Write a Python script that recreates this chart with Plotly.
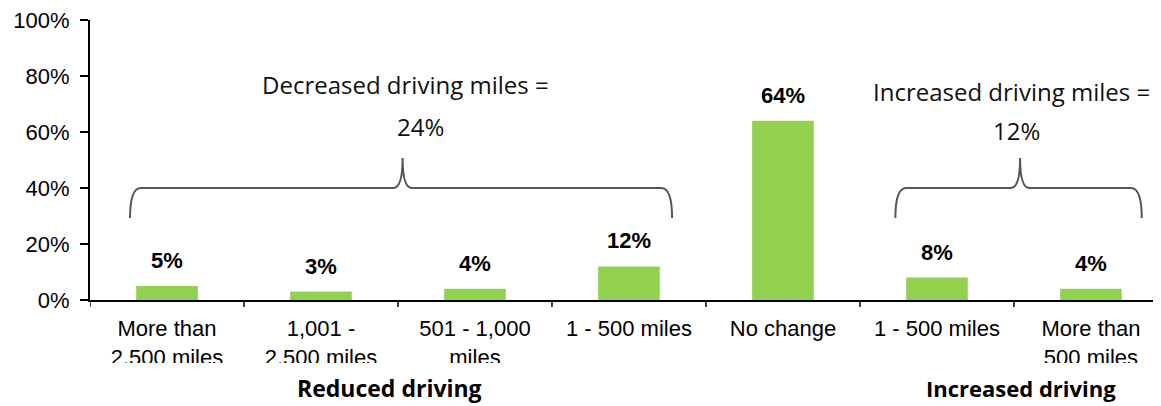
import plotly.graph_objects as go

categories = ["More than<br>2,500 miles", "1,001 -<br>2,500 miles", "501 - 1,000<br>miles",
              "1 - 500 miles", "No change", "1 - 500 miles", "More than<br>500 miles"]
values = [5, 3, 4, 12, 64, 8, 4]
value_labels = ["5%", "3%", "4%", "12%", "64%", "8%", "4%"]
y_ticks = [0, 20, 40, 60, 80, 100]
y_tick_labels = ["0%", "20%", "40%", "60%", "80%", "100%"]

xs = list(range(len(categories)))

fig = go.Figure()
fig.add_trace(go.Bar(
    x=xs, y=values, width=0.4,
    marker=dict(color="#92D050", line=dict(width=0)),
    hoverinfo="skip",
))

annotations = []
for xi, v, lab in zip(xs, values, value_labels):
    annotations.append(dict(x=xi, y=v, xref="x", yref="y", text="<b>%s</b>" % lab,
                            showarrow=False, yanchor="bottom", yshift=11,
                            font=dict(family="Liberation Sans, Arial", size=22, color="#000")))

calib = "Open Sans, sans-serif"
annotations += [
    dict(x=1.552, y=76.8, xref="x", yref="y", text="Decreased driving miles =", showarrow=False,
         xanchor="center", yanchor="middle", font=dict(family=calib, size=24, color="#111")),
    dict(x=1.643, y=61.8, xref="x", yref="y", text="24%", showarrow=False,
         xanchor="center", yanchor="middle", font=dict(family=calib, size=24, color="#111")),
    dict(x=4.571, y=74.3, xref="x", yref="y", text="Increased driving miles =", showarrow=False,
         xanchor="left", yanchor="middle", font=dict(family=calib, size=24, color="#111")),
    dict(x=5.519, y=60.7, xref="x", yref="y", text="12%", showarrow=False,
         xanchor="center", yanchor="middle", font=dict(family=calib, size=24, color="#111")),
    dict(x=1.448, y=-0.314, xref="x", yref="paper", text="<b>Reduced driving</b>", showarrow=False,
         xanchor="center", yanchor="middle", font=dict(family=calib, size=23, color="#000")),
    dict(x=5.545, y=-0.316, xref="x", yref="paper", text="<b>Increased driving</b>", showarrow=False,
         xanchor="center", yanchor="middle", font=dict(family=calib, size=22, color="#000")),
]


def brace(x0, x1, xt, yh=40.0, ytip=50.7, yend=29.3):
    return ("M %f,%f Q %f,%f %f,%f L %f,%f Q %f,%f %f,%f Q %f,%f %f,%f L %f,%f Q %f,%f %f,%f" % (
        x0, yend, x0, yh, x0 + 0.07, yh,
        xt - 0.06, yh, xt, yh, xt, ytip,
        xt, yh, xt + 0.06, yh,
        x1 - 0.07, yh, x1, yh, x1, yend))


shapes = [
    dict(type="path", xref="x", yref="y", path=brace(-0.24, 3.28, 1.53),
         line=dict(color="#555", width=2)),
    dict(type="path", xref="x", yref="y", path=brace(4.73, 6.33, 5.54),
         line=dict(color="#555", width=2)),
    # white band clipping the second line of wrapped tick labels
    dict(type="rect", xref="paper", yref="paper", x0=-0.1, x1=1.1, y0=-0.272, y1=-0.225,
         fillcolor="white", line=dict(width=0), layer="above"),
]

fig.update_layout(
    width=1153, height=398,
    margin=dict(l=82, r=0, t=12, b=106),
    paper_bgcolor="white", plot_bgcolor="white",
    showlegend=False,
    annotations=annotations,
    shapes=shapes,
    xaxis=dict(
        tickmode="array", tickvals=xs, ticktext=categories,
        range=[-0.5, 6.455],
        showline=True, linecolor="#000", linewidth=2,
        ticks="", showgrid=False, zeroline=False,
        tickfont=dict(family="Liberation Sans, Arial", size=22, color="#000"),
        ticklabelstandoff=8,
        ticklabeloverflow="allow",
        fixedrange=True,
    ),
    yaxis=dict(
        range=[0, 100], tickvals=y_ticks, ticktext=y_tick_labels,
        showline=True, linecolor="#000", linewidth=2,
        ticks="outside", ticklen=8, tickcolor="#000", tickwidth=1.5,
        showgrid=False, zeroline=False,
        tickfont=dict(family="Liberation Sans, Arial", size=22, color="#000"),
        ticklabelstandoff=6,
        ticklabeloverflow="allow",
    ),
)

# category boundary tick marks on the x axis
for b in [-0.5, 0.5, 1.5, 2.5, 3.5, 4.5, 5.5]:
    fig.add_shape(type="line", xref="x", yref="paper", x0=b, x1=b, y0=0, y1=-0.025,
                  line=dict(color="#000", width=1.5))

fig.write_html("out.html")
